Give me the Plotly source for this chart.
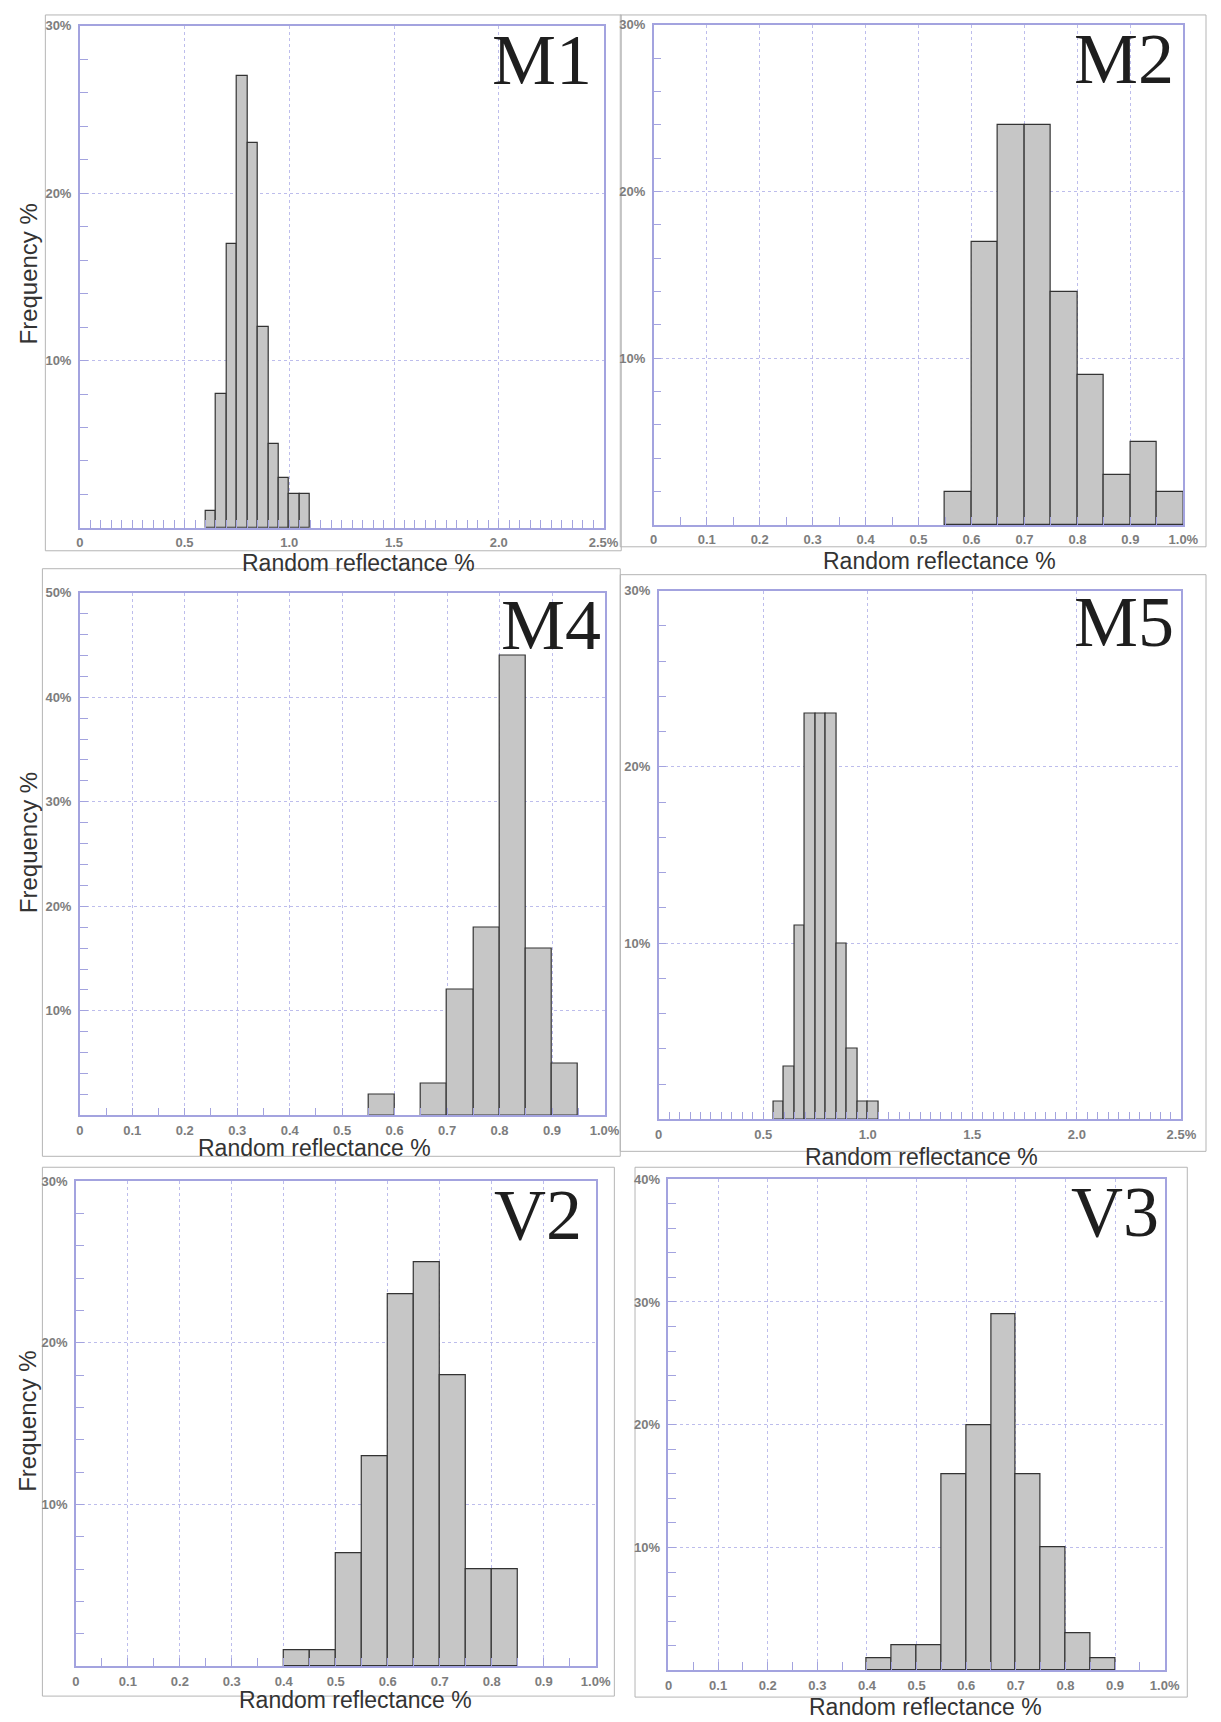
import plotly.graph_objects as go

W, H = 1221, 1722

# ---------------- data ----------------
BIN_WIDTH = 0.05

M1_bins = [0.60, 0.65, 0.70, 0.75, 0.80, 0.85, 0.90, 0.95, 1.00, 1.05]
M1_freq = [1, 8, 17, 27, 23, 12, 5, 3, 2, 2]

M2_bins = [0.55, 0.60, 0.65, 0.70, 0.75, 0.80, 0.85, 0.90, 0.95]
M2_freq = [2, 17, 24, 24, 14, 9, 3, 5, 2]

M4_bins = [0.55, 0.65, 0.70, 0.75, 0.80, 0.85, 0.90]
M4_freq = [2, 3, 12, 18, 44, 16, 5]

M5_bins = [0.55, 0.60, 0.65, 0.70, 0.75, 0.80, 0.85, 0.90, 0.95, 1.00]
M5_freq = [1, 3, 11, 23, 23, 23, 10, 4, 1, 1]

V2_bins = [0.40, 0.45, 0.50, 0.55, 0.60, 0.65, 0.70, 0.75, 0.80]
V2_freq = [1, 1, 7, 13, 23, 25, 18, 6, 6]

V3_bins = [0.40, 0.45, 0.50, 0.55, 0.60, 0.65, 0.70, 0.75, 0.80, 0.85]
V3_freq = [1, 2, 2, 16, 20, 29, 16, 10, 3, 1]

X_WIDE_TICKS = [0, 0.5, 1.0, 1.5, 2.0, 2.5]
X_WIDE_TEXT = ["0", "0.5", "1.0", "1.5", "2.0", "2.5%"]
X_NARROW_TICKS = [0, 0.1, 0.2, 0.3, 0.4, 0.5, 0.6, 0.7, 0.8, 0.9, 1.0]
X_NARROW_TEXT = ["0", "0.1", "0.2", "0.3", "0.4", "0.5", "0.6", "0.7", "0.8", "0.9", "1.0%"]

Y30_TICKS = [10, 20, 30]
Y30_TEXT = ["10%", "20%", "30%"]
Y40_TICKS = [10, 20, 30, 40]
Y40_TEXT = ["10%", "20%", "30%", "40%"]
Y50_TICKS = [10, 20, 30, 40, 50]
Y50_TEXT = ["10%", "20%", "30%", "40%", "50%"]

X_TITLE = "Random reflectance %"
Y_TITLE = "Frequency %"

# ---------------- styling / layout ----------------
LAV = "#a3a3df"
GRID = "#bdbdec"
BAR_FILL = "#c6c6c6"
BAR_LINE = "#333333"
TICK_FONT = dict(family="Liberation Sans, Arial, sans-serif", size=13, color="#7d7d7d",
                 weight="bold")


def px(p):
    return p / W


def py(p):
    return 1 - p / H


panels = [
    dict(name="M1", bins=M1_bins, freq=M1_freq, xmax=2.5, xt=X_WIDE_TICKS, xs=X_WIDE_TEXT,
         ymax=30, yt=Y30_TICKS, ys=Y30_TEXT, box=(77, 19, 609, 523),
         lab=(599, 53), xtl=(360, 558), ytl=(25, 268)),
    dict(name="M2", bins=M2_bins, freq=M2_freq, xmax=1.0, xt=X_NARROW_TICKS, xs=X_NARROW_TEXT,
         ymax=30, yt=Y30_TICKS, ys=Y30_TEXT, box=(660, 18, 1198, 520),
         lab=(1191, 52), xtl=(950, 556), ytl=None),
    dict(name="M4", bins=M4_bins, freq=M4_freq, xmax=1.0, xt=X_NARROW_TICKS, xs=X_NARROW_TEXT,
         ymax=50, yt=Y50_TICKS, ys=Y50_TEXT, box=(77, 588, 610, 1113),
         lab=(608, 621), xtl=(315, 1146), ytl=(25, 839)),
    dict(name="M5", bins=M5_bins, freq=M5_freq, xmax=2.5, xt=X_WIDE_TICKS, xs=X_WIDE_TEXT,
         ymax=30, yt=Y30_TICKS, ys=Y30_TEXT, box=(665, 586, 1196, 1117),
         lab=(1191, 618), xtl=(932, 1155), ytl=None),
    dict(name="V2", bins=V2_bins, freq=V2_freq, xmax=1.0, xt=X_NARROW_TICKS, xs=X_NARROW_TEXT,
         ymax=30, yt=Y30_TICKS, ys=Y30_TEXT, box=(73, 1179, 601, 1666),
         lab=(589, 1213), xtl=(357, 1700), ytl=(24, 1420)),
    dict(name="V3", bins=V3_bins, freq=V3_freq, xmax=1.0, xt=X_NARROW_TICKS, xs=X_NARROW_TEXT,
         ymax=40, yt=Y40_TICKS, ys=Y40_TEXT, box=(675, 1177, 1179, 1670),
         lab=(1175, 1210), xtl=(936, 1707), ytl=None),
]

outer_boxes = [
    (42, 8, 627, 546),      # M1
    (626, 8, 1221, 542),    # M2
    (39, 564, 626, 1154),   # M4
    (626, 570, 1221, 1149),  # M5
    (39, 1165, 620, 1696),  # V2
    (641, 1165, 1202, 1697),  # V3
]

fig = go.Figure()
layout = dict(
    width=W, height=H,
    margin=dict(l=0, r=0, t=0, b=0),
    paper_bgcolor="white", plot_bgcolor="white",
    showlegend=False,
    bargap=0,
)
annotations = []
shapes = []

for (l, t, r, b) in outer_boxes:
    shapes.append(dict(type="rect", xref="paper", yref="paper",
                       x0=px(l), x1=px(r), y0=py(b), y1=py(t),
                       line=dict(color="#b5b5b5", width=1), layer="below"))

for i, p in enumerate(panels, start=1):
    xa = "x" if i == 1 else f"x{i}"
    ya = "y" if i == 1 else f"y{i}"
    fig.add_trace(go.Bar(
        x=p["bins"], y=p["freq"], width=BIN_WIDTH, offset=0,
        marker=dict(color=BAR_FILL, line=dict(color=BAR_LINE, width=1.2)),
        xaxis=xa, yaxis=ya, hoverinfo="skip",
    ))
    l, t, r, b = p["box"]
    common = dict(
        showline=True, mirror=True, linecolor=LAV, linewidth=1.5,
        showgrid=True, gridcolor=GRID, gridwidth=1, griddash="dot",
        zeroline=False, ticks="inside", ticklen=8, tickcolor=LAV, tickwidth=1,
        tickfont=TICK_FONT, tickmode="array", fixedrange=True,
    )
    layout["xaxis" if i == 1 else f"xaxis{i}"] = dict(
        common, domain=[px(l), px(r)], anchor=ya,
        range=[0, p["xmax"]], tickvals=p["xt"], ticktext=p["xs"],
        ticklabelstandoff=2,
        minor=dict(ticks="inside", ticklen=8, tickcolor=LAV, tickwidth=1,
                   tickmode="linear", tick0=0, dtick=BIN_WIDTH, showgrid=False),
    )
    layout["yaxis" if i == 1 else f"yaxis{i}"] = dict(
        common, domain=[py(b), py(t)], anchor=xa,
        range=[0, p["ymax"]], tickvals=p["yt"], ticktext=p["ys"],
        ticklabelstandoff=4,
        minor=dict(ticks="inside", ticklen=8, tickcolor=LAV, tickwidth=1,
                   tickmode="linear", tick0=0, dtick=2, showgrid=False),
    )
    annotations.append(dict(
        text=p["name"], xref="paper", yref="paper",
        x=px(p["lab"][0]), y=py(p["lab"][1]), xanchor="right", yanchor="middle",
        showarrow=False,
        font=dict(family="Liberation Serif, Times New Roman, serif", size=72, color="#1e1e1e"),
    ))
    annotations.append(dict(
        text=X_TITLE, xref="paper", yref="paper",
        x=px(p["xtl"][0]), y=py(p["xtl"][1]), xanchor="center", yanchor="middle",
        showarrow=False,
        font=dict(family="Liberation Sans, Arial, sans-serif", size=23, color="#333333"),
    ))
    if p["ytl"] is not None:
        annotations.append(dict(
            text=Y_TITLE, xref="paper", yref="paper",
            x=px(p["ytl"][0]), y=py(p["ytl"][1]), xanchor="center", yanchor="middle",
            textangle=-90, showarrow=False,
            font=dict(family="Liberation Sans, Arial, sans-serif", size=24, color="#333333"),
        ))

layout["annotations"] = annotations
layout["shapes"] = shapes
fig.update_layout(**layout)

fig.write_html(
    "out.html",
    config={"displayModeBar": False},
    post_script="document.body.style.margin='0';document.body.style.overflow='hidden';",
)
